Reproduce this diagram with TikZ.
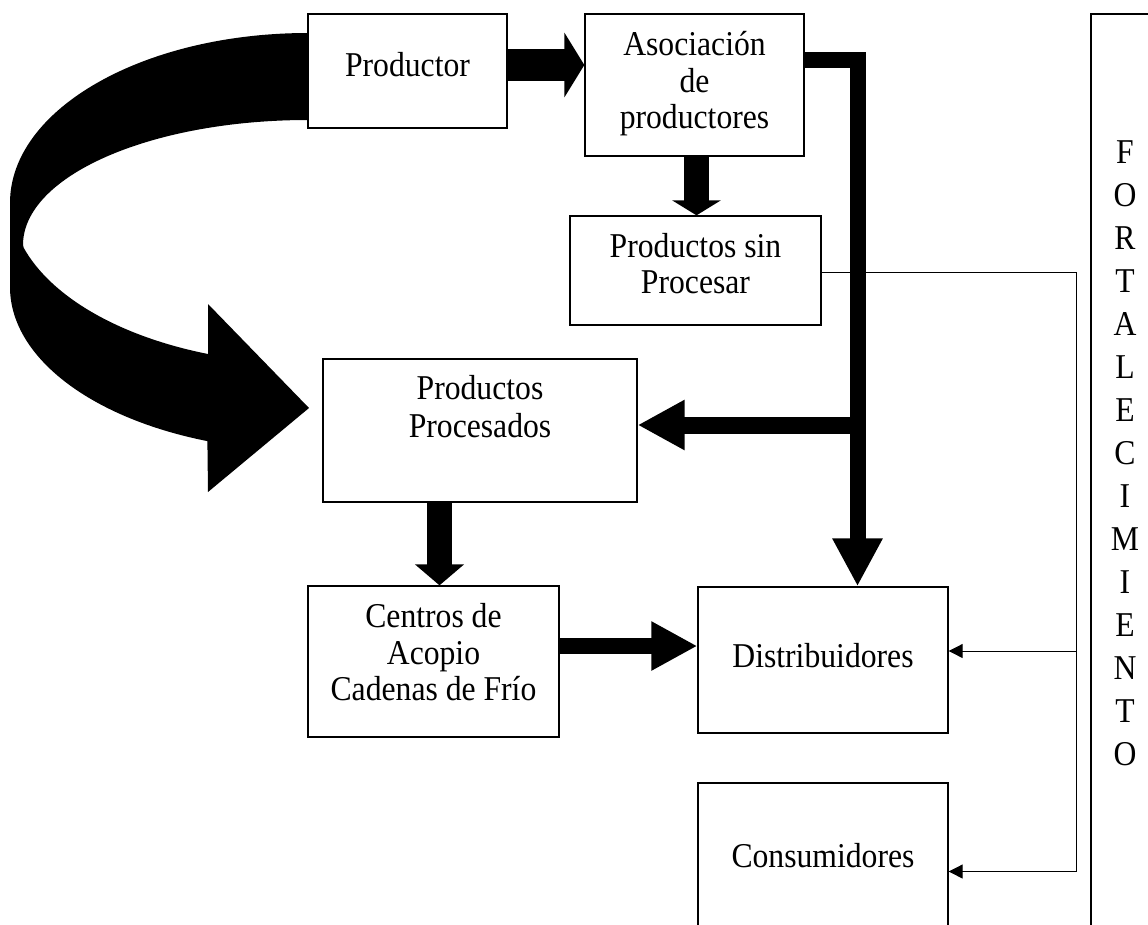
\documentclass[tikz,border=0pt]{standalone}
\usepackage{fontspec}
\setmainfont{Liberation Serif}[FakeStretch=0.91]
\usetikzlibrary{arrows.meta,calc}
\begin{document}
\begin{tikzpicture}[x=1pt,y=-1pt,
  box/.style={draw,line width=1.3pt,inner sep=0pt},
  txt/.style={inner sep=0pt,anchor=base,font=\fontsize{34.8pt}{36.5pt}\selectfont},
  fine/.style={line width=0.9pt},
  finearrow/.style={fine,-{Triangle[length=14pt,width=14pt]}}]
\useasboundingbox (0,0) rectangle (1148,924);
\clip (0,0) rectangle (1148,924);

% boxes
\node[box,minimum width=199pt,minimum height=114pt] (prod) at (407.5,71) {};
\node[box,minimum width=219pt,minimum height=142pt] (asoc) at (694.5,85) {};
\node[box,minimum width=251pt,minimum height=109pt] (sinp) at (695.5,270.5) {};
\node[box,minimum width=314pt,minimum height=143pt] (proc) at (480,430.5) {};
\node[box,minimum width=251pt,minimum height=151pt] (cen) at (433.5,661.5) {};
\node[box,minimum width=250pt,minimum height=146pt] (dist) at (823,660) {};
\node[box,minimum width=250pt,minimum height=177pt] (cons) at (823,871.5) {};
\node[box,minimum width=109pt,minimum height=986pt] (fort) at (1145.5,507) {};

% texts
\node[txt] (t1) at (407.5,76) {Productor};
\node[txt] (t2a) at (694.5,55) {Asociación};
\node[txt] (t2b) at (694.5,92) {de};
\node[txt] (t2c) at (694.5,128) {productores};
\node[txt] (t3a) at (695.5,257) {Productos sin};
\node[txt] (t3b) at (695.5,293) {Procesar};
\node[txt] (t4a) at (480,399) {Productos};
\node[txt] (t4b) at (480,437) {Procesados};
\node[txt] (t5a) at (433.5,627) {Centros de};
\node[txt] (t5b) at (433.5,664) {Acopio};
\node[txt] (t5c) at (433.5,700) {Cadenas de Frío};
\node[txt] (t6) at (823,667) {Distribuidores};
\node[txt] (t7) at (823,867) {Consumidores};
\foreach \l [count=\i from 0] in {F,O,R,T,A,L,E,C,I,M,I,E,N,T,O}
  \node[txt] (f\i) at (1125,163+43*\i) {\l};

% curved block arrow
\fill (308,33) arc[start angle=270,end angle=180,x radius=298,y radius=170]
  -- (10,287) arc[start angle=180,end angle=110,x radius=300,y radius=164]
  -- (208,492) -- (309,408) -- (208,304) -- (208,354)
  arc[start angle=110,end angle=163,x radius=300,y radius=164]
  -- (23,245) arc[start angle=180,end angle=270,x radius=285,y radius=125]
  -- cycle;

% thin connectors
\coordinate (j2) at ($(dist.east)+(128,-9)$);
\draw[finearrow] ($(sinp.east)+(0,1.5)$) -| ($(cons.east)+(128,0)$) -- (cons.east);
\draw[finearrow] (j2) -- ($(dist.east)+(0,-9)$);

% thick connectors
\draw[line width=32pt,-{Triangle[length=20pt,width=64pt]}]
  ($(prod.east)+(0,-6)$) -- ($(asoc.west)+(0,-20)$);
\draw[line width=25pt,-{Triangle[length=15pt,width=48pt]}]
  ($(asoc.south)+(2,0)$) -- ($(sinp.north)+(1,0)$);
\draw[line width=25pt,-{Triangle[length=21pt,width=48pt]}]
  ($(proc.south)+(-40.5,0)$) -- ($(cen.north)+(6,0)$);
\draw[line width=16pt,-{Triangle[length=46pt,width=46pt]}]
  ($(cen.east)+(0,-15.5)$) -- ($(dist.west)+(0,-14)$);
\draw[line width=16pt,line join=miter,-{Triangle[length=48pt,width=47pt]}]
  ($(asoc.east)+(0,-25)$) -| ($(dist.north)+(34.5,0)$);
\coordinate (br) at (857.5,425);
\draw[line width=17pt,-{Triangle[length=47pt,width=47pt]}]
  (br) -- ($(proc.east)+(0,-5.5)$);
\end{tikzpicture}
\end{document}
